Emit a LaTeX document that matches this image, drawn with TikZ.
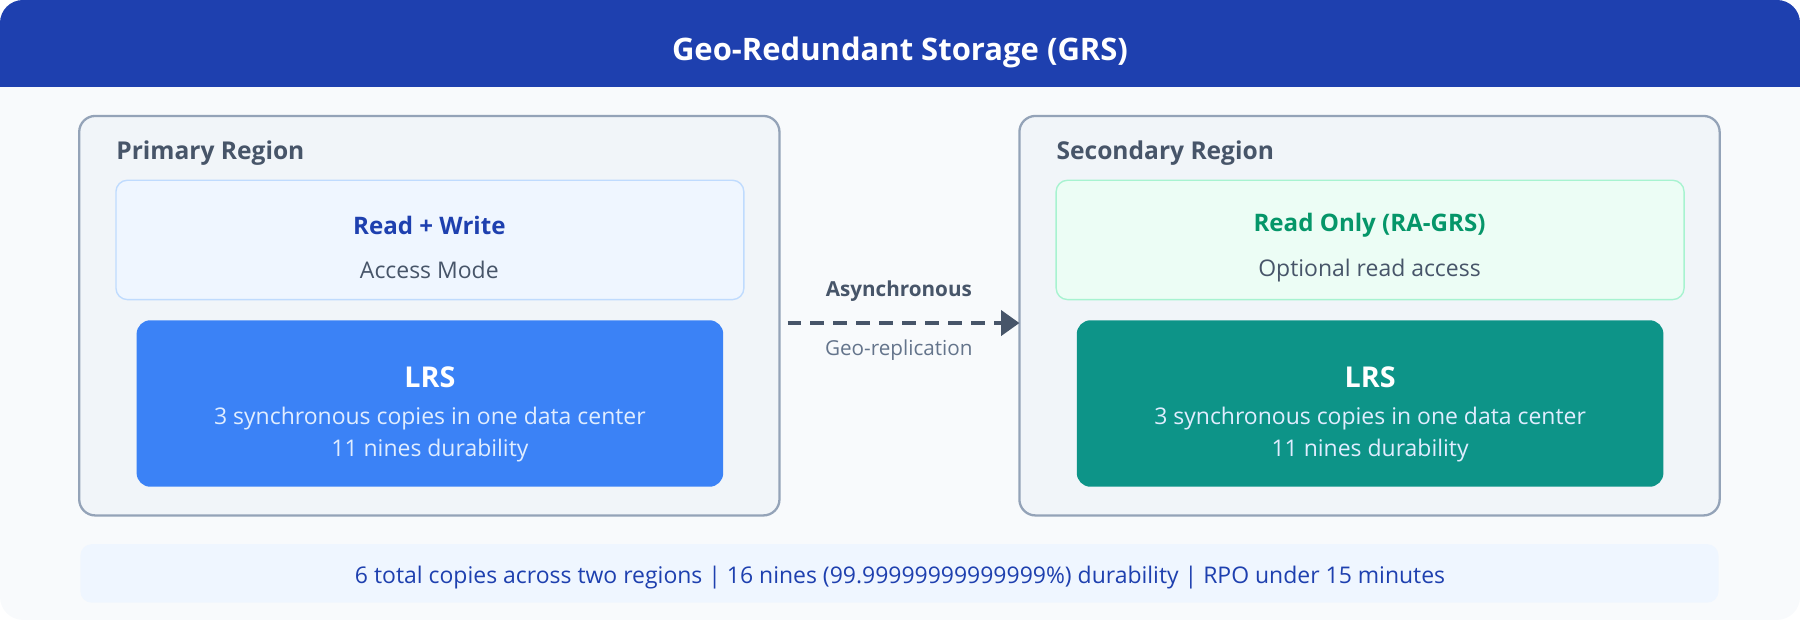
\documentclass[tikz,border=0pt]{standalone}
\usepackage{fontspec}
\setmainfont{Open Sans}
\usetikzlibrary{arrows.meta}
\definecolor{hdrblue}{HTML}{1E40AF}
\definecolor{bgpage}{HTML}{F8FAFC}
\definecolor{regfill}{HTML}{F1F5F9}
\definecolor{regline}{HTML}{94A3B8}
\definecolor{slate}{HTML}{475569}
\definecolor{slatelt}{HTML}{64748B}
\definecolor{bluefill}{HTML}{EFF6FF}
\definecolor{blueline}{HTML}{BFDBFE}
\definecolor{greenfill}{HTML}{ECFDF5}
\definecolor{greenline}{HTML}{A7F3D0}
\definecolor{greentext}{HTML}{059669}
\definecolor{lrsblue}{HTML}{3B82F6}
\definecolor{lrsteal}{HTML}{0D9488}
\definecolor{lrstext}{HTML}{E0EDFF}
\tikzset{
  every node/.append style={yshift=-1.2pt},
  regionbox/.style={draw=regline, line width=1pt, fill=regfill, rounded corners=7pt},
  modebox/.style={line width=0.6pt, rounded corners=5pt},
  lrsbox/.style={rounded corners=6pt, yshift=1.2pt},
  regiontitle/.style={anchor=west, inner sep=0pt, text=slate, font=\fontsize{10.7}{13}\selectfont\bfseries},
  body/.style={font=\fontsize{10}{12}\selectfont},
  bodybold/.style={font=\fontsize{10.5}{12}\selectfont\bfseries},
  lrshead/.style={text=white, font=\fontsize{12.5}{15}\selectfont\bfseries},
}
\begin{document}
\begin{tikzpicture}[x=0.5pt, y=-0.5pt]
    % page and header
    \useasboundingbox (0,0) rectangle (1568,540);
    \begin{scope}
      \clip[rounded corners=10pt] (0,0) rectangle (1568,540);
      \fill[bgpage] (0,0) rectangle (1568,540);
      \fill[hdrblue] (0,0) rectangle (1568,76);
    \end{scope}
    \node (title) at (784,43) [text=white, font=\fontsize{13.5}{16}\selectfont\bfseries] {Geo-Redundant Storage (GRS)};

    % primary region
    \draw[regionbox] (69,101) rectangle (679,449);
    \node (ptitle) at (101,131) [regiontitle] {Primary Region};
    \draw[modebox, draw=blueline, fill=bluefill] (101,157) rectangle (648,261);
    \node (pmode) at (374,194) [text=hdrblue, bodybold] {Read + Write};
    \node (pmodesub) at (374,233) [text=slate, body] {Access Mode};
    \node (plrs) [lrsbox, fill=lrsblue, minimum width=255.5pt, minimum height=72.5pt] at (374.5,351.5) {};
    \node at (374.5,326) [lrshead] {LRS};
    \node at (374.5,362) [text=lrstext, body] {3 synchronous copies in one data center};
    \node at (374.5,390) [text=lrstext, body] {11 nines durability};

    % secondary region
    \draw[regionbox] (888,101) rectangle (1498,449);
    \node (stitle) at (920,131) [regiontitle] {Secondary Region};
    \draw[modebox, draw=greenline, fill=greenfill] (920,157) rectangle (1467,261);
    \node (smode) at (1193,194) [text=greentext, bodybold] {Read Only (RA-GRS)};
    \node (smodesub) at (1193,233) [text=slate, body] {Optional read access};
    \node (slrs) [lrsbox, fill=lrsteal, minimum width=255.5pt, minimum height=72.5pt] at (1193.5,351.5) {};
    \node at (1193.5,326) [lrshead] {LRS};
    \node at (1193.5,362) [text=lrstext, body] {3 synchronous copies in one data center};
    \node at (1193.5,390) [text=lrstext, body] {11 nines durability};

    % replication arrow
    \coordinate (arrA) at (686,279);
    \coordinate (arrB) at (888,279);
    \draw[slate, line width=1.5pt, dash pattern=on 6pt off 4pt, -{Triangle[length=8pt,width=11pt]}] (arrA) -- (arrB);
    \node (async) at (783,251) [text=slate, font=\fontsize{9}{11}\selectfont\bfseries] {Asynchronous};
    \node (georep) at (783,303) [text=slatelt, font=\fontsize{9}{11}\selectfont] {Geo-replication};

    % summary bar
    \fill[bluefill, rounded corners=5pt] (70,474) rectangle (1497,525);
    \node (summary) at (784,501) [text=hdrblue, body] {6 total copies across two regions | 16 nines (99.99999999999999\%) durability | RPO under 15 minutes};
\end{tikzpicture}
\end{document}
